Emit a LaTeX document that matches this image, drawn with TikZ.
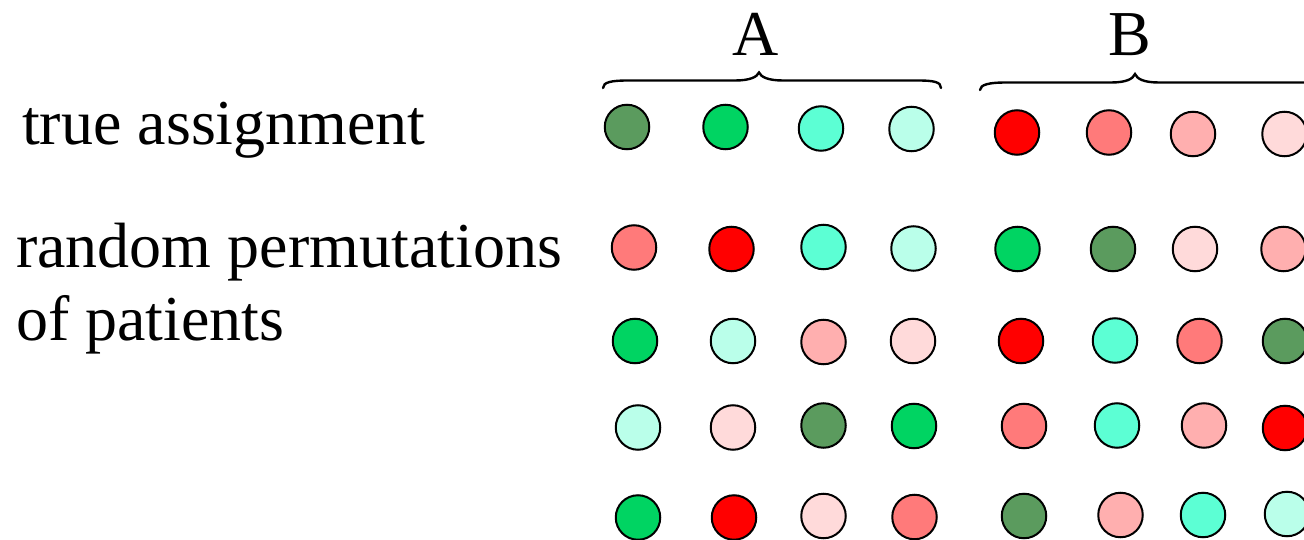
\documentclass[tikz,border=0pt]{standalone}
\usepackage{fontspec}
\setmainfont{Liberation Serif}
\definecolor{dg}{HTML}{5B9B5E}
\definecolor{gr}{HTML}{00D462}
\definecolor{aq}{HTML}{5CFFD4}
\definecolor{la}{HTML}{BAFFEA}
\definecolor{rd}{HTML}{FF0000}
\definecolor{sa}{HTML}{FF7A7A}
\definecolor{pk}{HTML}{FFAFAF}
\definecolor{lp}{HTML}{FFDADA}
\tikzset{
  patient/.style={circle, draw=black, line width=2pt, minimum size=44.5pt, inner sep=0pt},
  rowlabel/.style={anchor=base west, inner sep=0pt, font=\fontsize{64}{74}\selectfont},
  grouplabel/.style={anchor=base, inner sep=0pt, font=\fontsize{64}{74}\selectfont},
  bracepath/.style={line width=2.4pt, line cap=round}
}
\begin{document}
\begin{tikzpicture}[x=1pt,y=-1pt]
\useasboundingbox (0,0) rectangle (1304,540);

% row labels
\node[rowlabel] (ltrue) at (22,145) {true assignment};
\node[rowlabel] (lrand) at (16,267) {random permutations};
\node[rowlabel] (lpat) at (16,340) {of patients};

% group labels
\node[grouplabel] (gA) at (756,56) {A};
\node[grouplabel] (gB) at (1130,56) {B};

% braces over the groups
\draw[bracepath] (603,88) .. controls (603,82) and (612,80.5) .. (628,80.5)
  -- (735,80.5) .. controls (750,80.5) and (757,77) .. (759,72.5)
  .. controls (761,77) and (768,80.5) .. (783,80.5)
  -- (918,80.5) .. controls (934,80.5) and (941,82) .. (941,88);
\draw[bracepath] (980,90) .. controls (980,84.5) and (990,82.5) .. (1005,82.5)
  -- (1111,82.5) .. controls (1126,82.5) and (1133,79) .. (1135,74)
  .. controls (1137,79) and (1144,82.5) .. (1159,82.5) -- (1312,82.5);

% true assignment
\foreach \x/\y/\c [count=\i] in {627/127/dg,725.5/127/gr,821/128.5/aq,911.5/129/la,1017/132.5/rd,1109/132.5/sa,1193/134/pk,1284.5/134/lp}
  \node[patient, fill=\c] (t\i) at (\x,\y) {};

% permutation 1
\foreach \x/\y/\c [count=\i] in {634/247.5/sa,731.5/249/rd,823.5/247/aq,913.5/248.5/la,1017.5/249/gr,1113/249/dg,1195/249/lp,1283.5/249/pk}
  \node[patient, fill=\c] (p\i) at (\x,\y) {};

% permutation 2
\foreach \x/\y/\c [count=\i] in {635/341/gr,733/341/la,823.5/342/pk,913/341/lp,1021/341/rd,1115/340.5/aq,1199.5/341/sa,1285/341/dg}
  \node[patient, fill=\c] (q\i) at (\x,\y) {};

% permutation 3
\foreach \x/\y/\c [count=\i] in {638/427.5/la,733/427.5/lp,823.5/425.5/dg,914/426/gr,1024/426/sa,1117/425.5/aq,1204/425.5/pk,1285/428/rd}
  \node[patient, fill=\c] (s\i) at (\x,\y) {};

% permutation 4
\foreach \x/\y/\c [count=\i] in {638/517.5/gr,734/517.5/rd,823.5/516/lp,914.5/517/sa,1024/516/dg,1120.5/515/pk,1203/515/aq,1287/514/la}
  \node[patient, fill=\c] (u\i) at (\x,\y) {};
\end{tikzpicture}
\end{document}
